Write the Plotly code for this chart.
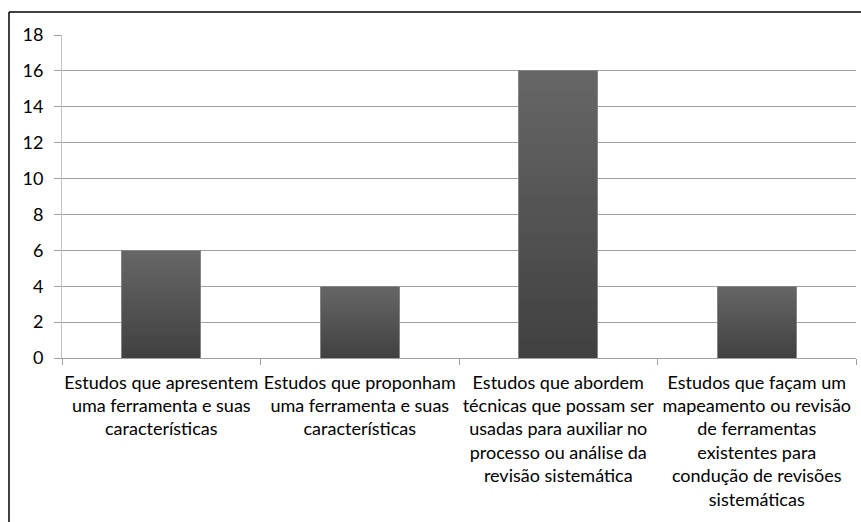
import plotly.graph_objects as go

categories = [
    "Estudos que apresentem<br>uma ferramenta e suas<br>características",
    "Estudos que proponham<br>uma ferramenta e suas<br>características",
    "Estudos que abordem<br>técnicas que possam ser<br>usadas para auxiliar no<br>processo ou análise da<br>revisão sistemática",
    "Estudos que façam um<br>mapeamento ou revisão<br>de ferramentas<br>existentes para<br>condução de revisões<br>sistemáticas",
]
values = [6, 4, 16, 4]
y_ticks = [0, 2, 4, 6, 8, 10, 12, 14, 16, 18]

FONT = "Lato"
N_SEG = 30
bottom_rgb = (0x41, 0x41, 0x41)
top_rgb = (0x66, 0x66, 0x66)

fig = go.Figure()
for i in range(N_SEG):
    t = i / (N_SEG - 1)
    c = tuple(round(b + (tp - b) * t) for b, tp in zip(bottom_rgb, top_rgb))
    fig.add_trace(go.Bar(
        x=categories, y=[v / N_SEG for v in values],
        marker=dict(color="rgb(%d,%d,%d)" % c, line=dict(width=0)),
        showlegend=False, hoverinfo="skip",
    ))
# outline overlay
fig.add_trace(go.Bar(
    x=categories, y=values, xaxis="x2",
    marker=dict(color="rgba(0,0,0,0)", line=dict(color="#858585", width=1)),
    showlegend=False, hovertemplate="%{y}<extra></extra>",
))

L, R, T, B = 62, 5, 35, 164
W, H = 861, 522
pw, ph = W - L - R, H - T - B

fig.update_layout(
    width=W, height=H,
    margin=dict(l=L, r=R, t=T, b=B),
    paper_bgcolor="white", plot_bgcolor="white",
    barmode="stack", bargap=0.6,
    font=dict(family=FONT, color="black"),
    xaxis=dict(
        type="category", range=[-0.5, 3.5],
        showline=True, linecolor="#a0a0a0", linewidth=1,
        ticks="outside", tickson="boundaries", ticklen=6, tickcolor="#a0a0a0",
        showgrid=False, tickfont=dict(size=18, family=FONT, color="black"),
        tickangle=0, ticklabelstandoff=8,
    ),
    xaxis2=dict(type="category", overlaying="x", range=[-0.5, 3.5], visible=False),
    yaxis=dict(
        range=[0, 18], tickvals=y_ticks,
        showgrid=True, gridcolor="#a0a0a0", gridwidth=1,
        showline=True, linecolor="#c0c0c0", linewidth=1,
        ticks="outside", ticklen=7, tickcolor="#a0a0a0",
        tickfont=dict(size=18, family=FONT, color="black"),
        zeroline=False, ticklabelstandoff=7,
    ),
    shapes=[
        dict(type="line", xref="paper", yref="paper",
             x0=(9 - L) / pw, x1=(W - L) / pw, y0=1 + (T - 12) / ph, y1=1 + (T - 12) / ph,
             line=dict(color="black", width=1.5)),
        dict(type="line", xref="paper", yref="paper",
             x0=(9 - L) / pw, x1=(9 - L) / pw, y0=1 + (T - 12) / ph, y1=-(B + 5) / ph,
             line=dict(color="black", width=1.5)),
    ],
)

fig.write_html("out.html")
